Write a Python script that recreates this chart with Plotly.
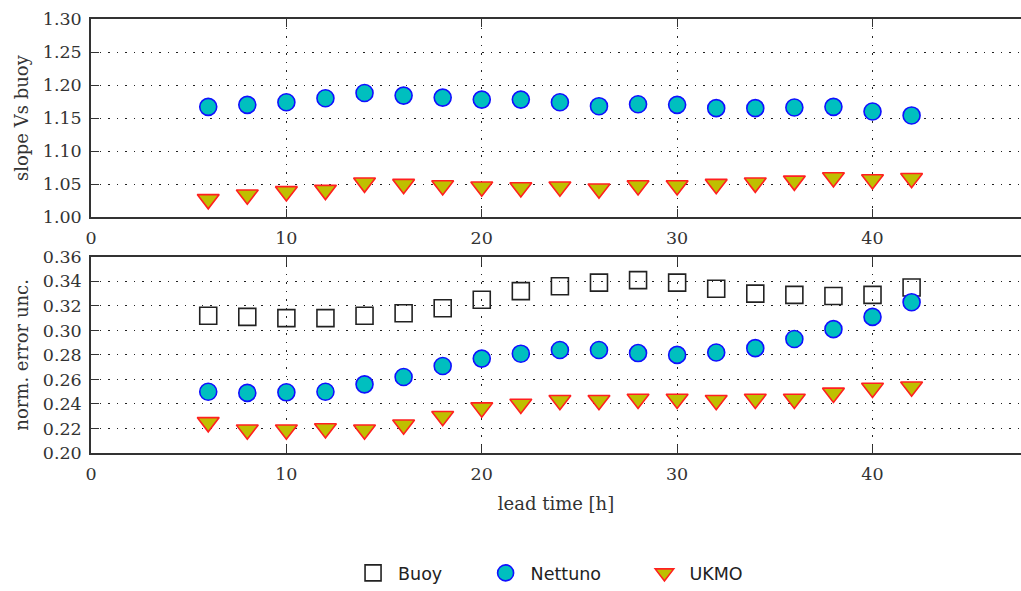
import plotly.graph_objects as go

# Forecast lead times [h]
lead_time = [6, 8, 10, 12, 14, 16, 18, 20, 22, 24, 26, 28, 30, 32, 34, 36, 38, 40, 42]

# Slope of model vs buoy regression
slope_nettuno = [1.167, 1.170, 1.174, 1.180, 1.188, 1.184, 1.181, 1.178, 1.178, 1.174,
                 1.168, 1.171, 1.170, 1.165, 1.165, 1.166, 1.167, 1.160, 1.154]
slope_ukmo = [1.027, 1.034, 1.039, 1.041, 1.052, 1.050, 1.048, 1.046, 1.045, 1.046,
              1.043, 1.048, 1.048, 1.050, 1.052, 1.055, 1.060, 1.057, 1.059]

# Normalised error uncertainty
err_buoy = [0.312, 0.311, 0.310, 0.310, 0.312, 0.314, 0.318, 0.325, 0.332, 0.336,
            0.339, 0.341, 0.339, 0.334, 0.330, 0.329, 0.328, 0.329, 0.335]
err_nettuno = [0.250, 0.249, 0.2495, 0.250, 0.256, 0.262, 0.271, 0.277, 0.281, 0.284,
               0.284, 0.2815, 0.280, 0.282, 0.2855, 0.293, 0.301, 0.311, 0.323]
err_ukmo = [0.225, 0.219, 0.219, 0.220, 0.219, 0.223, 0.230, 0.237, 0.240, 0.243,
            0.243, 0.244, 0.244, 0.243, 0.244, 0.244, 0.249, 0.253, 0.254]

slope_ticks = [1.00, 1.05, 1.10, 1.15, 1.20, 1.25, 1.30]
err_ticks = [0.20, 0.22, 0.24, 0.26, 0.28, 0.30, 0.32, 0.34, 0.36]
x_ticks = [0, 10, 20, 30, 40]

buoy_marker = dict(symbol="square-open", size=17, color="#222222", line=dict(width=1.6, color="#222222"))
nettuno_marker = dict(symbol="circle", size=17, color="#00bfbf", line=dict(width=1.6, color="#1010ff"))
ukmo_marker = dict(symbol="triangle-down", size=19, color="#bfbf00", line=dict(width=1.6, color="#ff2020"))

# legend labels, padded so the entries spread out
pad = "\u00a0" * 6
fig = go.Figure()

# upper panel: regression slope
fig.add_trace(go.Scatter(x=lead_time, y=slope_nettuno, mode="markers", marker=nettuno_marker,
                         name="Nettuno", showlegend=False, xaxis="x", yaxis="y"))
fig.add_trace(go.Scatter(x=lead_time, y=slope_ukmo, mode="markers", marker=ukmo_marker,
                         name="UKMO", showlegend=False, xaxis="x", yaxis="y"))

# lower panel: normalised error uncertainty
fig.add_trace(go.Scatter(x=lead_time, y=err_buoy, mode="markers", marker=buoy_marker,
                         name="Buoy" + pad, xaxis="x2", yaxis="y2"))
fig.add_trace(go.Scatter(x=lead_time, y=err_nettuno, mode="markers", marker=nettuno_marker,
                         name="Nettuno" + pad, xaxis="x2", yaxis="y2"))
fig.add_trace(go.Scatter(x=lead_time, y=err_ukmo, mode="markers", marker=ukmo_marker,
                         name="UKMO", xaxis="x2", yaxis="y2"))

serif = dict(family="DejaVu Serif", size=17.5, color="#333333")
title_font = dict(family="DejaVu Serif", size=18, color="#333333")
axis_common = dict(
    showline=True, linecolor="#333333", linewidth=1.5,
    ticks="inside", ticklen=8, tickwidth=1.3, tickcolor="#333333",
    showgrid=True, gridcolor="#222222", gridwidth=1.3, griddash="1.5px,7px",
    zeroline=False, tickfont=serif, ticklabelstandoff=4,
)

top_domain = [0.5434, 1.0]
bottom_domain = [0.0, 0.452]

fig.update_layout(
    xaxis=dict(axis_common, domain=[0, 1], range=[0, 47.6], tickvals=x_ticks, mirror="ticks", anchor="y"),
    yaxis=dict(axis_common, domain=top_domain, range=[1.0, 1.3], tickvals=slope_ticks, tickformat=".2f",
               anchor="x", title=dict(text="slope Vs buoy", font=title_font, standoff=9)),
    xaxis2=dict(axis_common, domain=[0, 1], range=[0, 47.6], tickvals=x_ticks, mirror="ticks", anchor="y2",
                title=dict(text="lead time [h]", font=title_font, standoff=15)),
    yaxis2=dict(axis_common, domain=bottom_domain, range=[0.20, 0.36], tickvals=err_ticks, tickformat=".2f",
                anchor="x2", title=dict(text="norm. error unc.", font=title_font, standoff=9)),
    width=1021, height=591,
    margin=dict(l=91, r=0, t=19, b=134),
    paper_bgcolor="white", plot_bgcolor="white",
    legend=dict(orientation="h", x=0.2764, xanchor="left", y=-0.277, yanchor="middle",
                font=dict(family="DejaVu Sans", size=17.5, color="#222222"),
                itemwidth=40, bgcolor="rgba(0,0,0,0)"),
)

fig.write_html("out.html")
